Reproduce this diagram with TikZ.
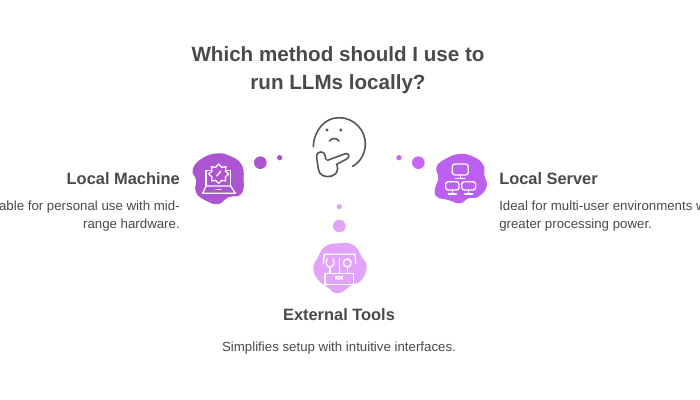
\documentclass[tikz,border=0pt]{standalone}
\usepackage{fontspec}
\setmainfont{Liberation Sans}
\definecolor{ink}{HTML}{4A4A4A}
\definecolor{face}{HTML}{555555}
\definecolor{machine}{HTML}{AB55D0}
\definecolor{server}{HTML}{BB60F0}
\definecolor{tools}{HTML}{E2A4F8}
\definecolor{sdot}{HTML}{C766F8}
\tikzset{
  titletext/.style={text=ink,font=\fontsize{15.45}{21}\selectfont\bfseries,align=center,inner sep=0pt},
  headtext/.style={text=ink,font=\fontsize{12.3}{15}\selectfont\bfseries,inner sep=0pt},
  bodytext/.style={text=ink,font=\fontsize{9.95}{12.8}\selectfont,inner sep=0pt},
  icon/.style={draw=white,line width=.95pt,line join=round,line cap=round},
  facel/.style={draw=face,line width=1.2pt,line cap=round,line join=round}
}
\begin{document}
\begin{tikzpicture}[x=.75pt,y=-.75pt]
\useasboundingbox (0,0) rectangle (700,400);
\clip (0,0) rectangle (700,400);
\fill[white] (0,0) rectangle (700,400);

\node[titletext] (title) at (338,70.5) {Which method should I use to\\run LLMs locally?};

% thinking face
\begin{scope}[shift={(290,105)},x=.25pt,y=-.25pt]
  \draw[facel] (70,125) .. controls (72,75) and (105,38) .. (147,38)
     .. controls (192,38) and (226,75) .. (226,116)
     .. controls (226,145) and (212,170) .. (188,184);
  \fill[face] (111,75) circle[radius=5] (152,75) circle[radius=5];
  \draw[facel] (118,108) .. controls (125,98) and (140,98) .. (147,108);
  \draw[facel] (108,163) .. controls (106,150) and (102,140) .. (92,141)
     .. controls (80,142) and (78,152) .. (81,165)
     .. controls (84,182) and (84,195) .. (90,205)
     .. controls (100,218) and (125,218) .. (137,206)
     .. controls (145,197) and (143,185) .. (140,178)
     -- (170,162) .. controls (180,156) and (178,144) .. (166,146)
     -- (112,166);
\end{scope}

% Local Machine
\begin{scope}[shift={(170,100)},x=.25pt,y=-.25pt]
  \fill[machine] plot[smooth cycle,tension=.8] coordinates {(140,160) (185,170) (215,195) (221,235) (214,282) (175,292) (145,312) (108,302) (78,277) (78,240) (68,210) (92,178)};
  \fill[machine] (271,188) circle[radius=19];
  \fill[machine] (329,173) circle[radius=8];
  \draw[icon] (120,212) -- (108,212) -- (108,258) (170,212) -- (182,212) -- (182,258);
  \draw[icon] (108,258) -- (98,280) -- (196,280) -- (182,258) -- cycle;
  \draw[icon] (138,268) -- (152,268);
  \draw[icon] (146,192) -- (155,202) -- (168,200) -- (166,213) -- (176,222) -- (166,231) -- (167,243) -- (155,241) -- (146,250) -- (137,241) -- (125,243) -- (126,231) -- (116,222) -- (126,213) -- (124,200) -- (137,202) -- cycle;
  \draw[icon] (140,228) -- (152,214);
\end{scope}

% Local Server
\begin{scope}[shift={(385,140)},x=.25pt,y=-.25pt]
  \fill[server] plot[smooth cycle,tension=.8] coordinates {(225,42) (265,50) (295,75) (298,105) (305,140) (280,170) (250,175) (225,190) (190,180) (155,170) (150,145) (160,115) (155,80) (185,55)};
  \fill[sdot] (100,68) circle[radius=19];
  \fill[sdot] (42,53) circle[radius=8];
  \draw[icon,rounded corners=2pt] (202,72) rectangle (250,105);
  \draw[icon,rounded corners=2pt] (182,125) rectangle (222,150);
  \draw[icon,rounded corners=2pt] (230,125) rectangle (272,150);
  \draw[icon] (226,105) -- (226,116) (212,116) -- (240,116);
  \draw[icon] (202,150) -- (202,162) (190,162) -- (214,162);
  \draw[icon] (251,150) -- (251,162) (239,162) -- (263,162);
\end{scope}

% External Tools
\begin{scope}[shift={(295,195)},x=.25pt,y=-.25pt]
  \fill[tools] plot[smooth cycle,tension=.8] coordinates {(130,145) (175,150) (200,185) (215,215) (200,255) (170,270) (130,295) (95,275) (70,255) (55,220) (70,185) (90,155)};
  \fill[tools] (133,93) circle[radius=19];
  \fill[tools] (133,35) circle[radius=8];
  \draw[icon] (85,205) -- (88,178) -- (180,178) -- (182,205);
  \draw[icon] (90,235) rectangle (175,268);
  \draw[icon,rounded corners=2pt] (122,245) rectangle (142,252);
  \draw[icon] (97,192) .. controls (88,202) and (95,215) .. (105,217) .. controls (115,215) and (122,202) .. (113,192);
  \draw[icon] (105,217) -- (105,235);
  \draw[icon] (133,190) -- (133,212) (133,212) -- (133,235);
  \draw[icon] (157,204) circle[radius=12];
  \draw[icon] (157,216) -- (157,235);
\end{scope}

\node[headtext,anchor=base east] (lmh) at (180,184) {Local Machine};
\node[bodytext,anchor=base east] (lm1) at (180,210) {Suitable for personal use with mid-};
\node[bodytext,anchor=base east] (lm2) at (180,228) {range hardware.};

\node[headtext,anchor=base west] (lsh) at (499,184) {Local Server};
\node[bodytext,anchor=base west] (ls1) at (499,210) {Ideal for multi-user environments with};
\node[bodytext,anchor=base west] (ls2) at (499,228) {greater processing power.};

\node[headtext,anchor=base] (eth) at (339,320) {External Tools};
\node[bodytext,anchor=base] (et1) at (339,351) {Simplifies setup with intuitive interfaces.};
\end{tikzpicture}
\end{document}
